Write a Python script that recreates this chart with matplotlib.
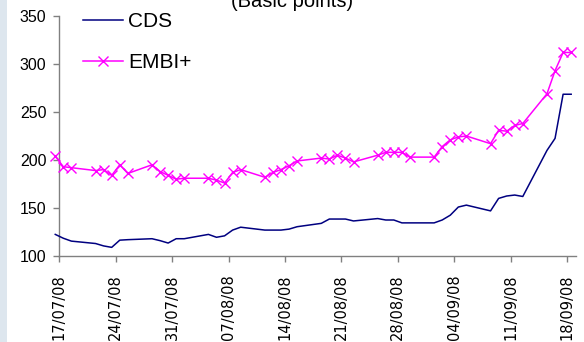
import matplotlib
matplotlib.use('Agg')
import matplotlib.pyplot as plt
import pandas as pd
from matplotlib.patches import Rectangle

dates = ['16/07/08', '17/07/08', '18/07/08', '21/07/08', '22/07/08', '23/07/08', '24/07/08', '25/07/08',
         '28/07/08', '29/07/08', '30/07/08', '31/07/08', '01/08/08', '04/08/08', '05/08/08', '06/08/08',
         '07/08/08', '08/08/08', '11/08/08', '12/08/08', '13/08/08', '14/08/08', '15/08/08', '18/08/08',
         '19/08/08', '20/08/08', '21/08/08', '22/08/08', '25/08/08', '26/08/08', '27/08/08', '28/08/08',
         '29/08/08', '01/09/08', '02/09/08', '03/09/08', '04/09/08', '05/09/08', '08/09/08', '09/09/08',
         '10/09/08', '11/09/08', '12/09/08', '15/09/08', '16/09/08', '17/09/08', '18/09/08']

cds = [122.5, 118.5, 115.5, 113, 110.5, 109, 116.5, 117,
       118, 116, 113.5, 118, 118, 122.5, 119.5, 121,
       127, 130, 127, 127, 127, 128, 130.5, 134,
       138.5, 138.5, 138.5, 136.5, 139, 137.5, 137.5, 134.5,
       134.5, 134.5, 137.5, 142.5, 151, 153, 147, 160,
       162.5, 163.5, 162, 210, 222.5, 268.5, 268.5]

embi = [204, 193, 192, 189, 190, 184, 195, 186,
        195, 188, 184, 180, 181, 181, 179, 176,
        187, 190, 182, 187, 190, 194, 199, 202,
        201, 205, 202, 198, 205, 208, 208, 208,
        203, 203, 214, 221, 224, 225, 217, 231,
        230, 236, 238, 269, 293, 312, 312]

tick_labels = ['17/07/08', '24/07/08', '31/07/08', '07/08/08', '14/08/08',
               '21/08/08', '28/08/08', '04/09/08', '11/09/08', '18/09/08']
y_ticks = [100, 150, 200, 250, 300, 350]

W, H = 584, 342
x = (pd.to_datetime(dates, format='%d/%m/%y') + pd.Timedelta(hours=12)).to_pydatetime()
ticks = pd.to_datetime(tick_labels, format='%d/%m/%y').to_pydatetime()

fig = plt.figure(figsize=(W / 100, H / 100), dpi=100)
fig.patch.set_facecolor('white')
fig.patches.append(Rectangle((0, 0), 7 / W, 1, transform=fig.transFigure,
                             facecolor='#dde6ee', edgecolor='none', zorder=0))

ax = fig.add_axes([59.3 / W, 1 - 256 / H, (576 - 59.3) / W, 240 / H])
ax.set_facecolor('white')
ax.plot(x, cds, color='#000080', lw=1.1, clip_on=False, label='CDS', zorder=3)
ax.plot(x, embi, color='#ff00ff', lw=1.1, marker='x', ms=7, mew=1.0,
        clip_on=False, label='EMBI+', zorder=4)

ax.set_ylim(100, 350)
ax.set_yticks(y_ticks)
ax.set_yticklabels([str(v) for v in y_ticks], fontfamily='Liberation Sans', fontsize=11.5)
ax.set_xlim(ticks[0], ticks[0] + pd.Timedelta(days=64.1))
ax.set_xticks(ticks)
ax.set_xticklabels(tick_labels, rotation=90, fontfamily='DejaVu Sans', fontsize=10.5)

for s in ['top', 'right']:
    ax.spines[s].set_visible(False)
for s in ['left', 'bottom']:
    ax.spines[s].set_color('#808080')
    ax.spines[s].set_linewidth(1.0)
ax.tick_params(axis='both', direction='out', length=4.3, width=1.0, color='#808080', labelcolor='black')
ax.tick_params(axis='y', pad=5)
ax.tick_params(axis='x', pad=9)

leg = ax.legend(loc='upper left', bbox_to_anchor=(83 / W, 1 - 12 / H), bbox_transform=fig.transFigure,
                frameon=False, prop={'family': 'Liberation Sans', 'size': 15},
                handlelength=1.92, handletextpad=0.25, labelspacing=1.08,
                borderpad=0, borderaxespad=0)

fig.text(292 / W, 1 - 7 / H, '(Basic points)', ha='center', va='baseline',
         fontfamily='Liberation Sans', fontsize=14.5)

fig.savefig('out.png', dpi=100, facecolor='white')
